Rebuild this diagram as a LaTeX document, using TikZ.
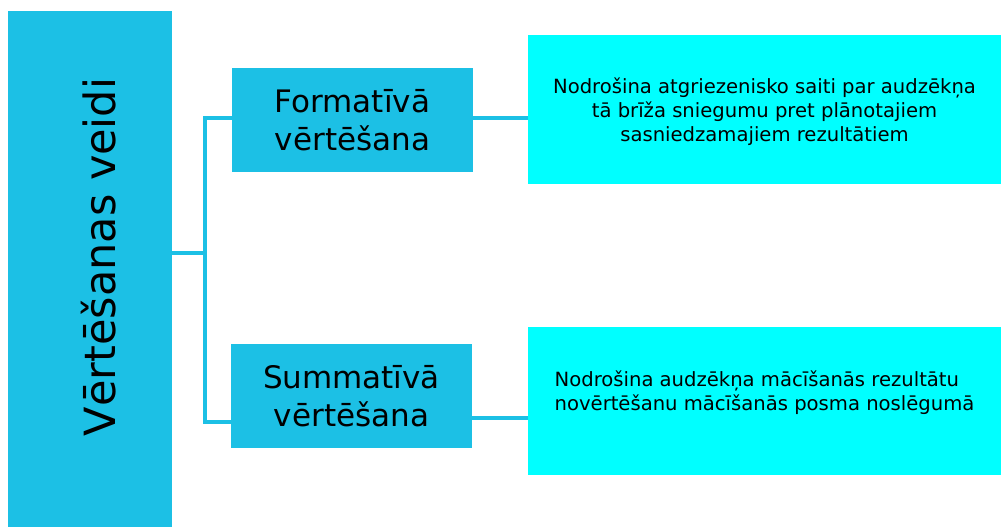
\documentclass[tikz,border=0pt]{standalone}
\usepackage{fontspec}
\setmainfont{DejaVu Sans}

\definecolor{boxblue}{RGB}{28,192,229}
\definecolor{boxcyan}{RGB}{0,255,255}

\tikzset{
  typebox/.style={shape=rectangle, fill=boxblue, inner sep=0pt, align=center,
    minimum width=241pt, minimum height=104pt, font=\fontsize{31}{38}\selectfont},
  descbox/.style={shape=rectangle, fill=boxcyan, inner sep=0pt,
    minimum width=473pt, minimum height=148pt, font=\fontsize{19.6}{24}\selectfont},
  link/.style={draw=boxblue, line width=3.2pt}
}

\begin{document}
\begin{tikzpicture}[x=1pt, y=-1pt]
    \useasboundingbox (0,0) rectangle (1001,527);

    %%   (lable)  (x, y)
    \coordinate (J)   at (205, 253);
    \coordinate (CF)  at (0,   118);
    \coordinate (CS)  at (0,   422);
    \coordinate (CSR) at (0,   418);

    \node[shape=rectangle, fill=boxblue, inner sep=0pt, rotate=90,
          minimum width=516pt, minimum height=164pt, text height=50pt, text depth=0pt,
          font=\fontsize{43}{50}\selectfont] (veidi) at (90, 269) {\hspace*{24pt}Vērtēšanas veidi};

    \node[typebox] (form) at (352.5, 120) {Formatīvā\\vērtēšana};
    \node[typebox] (summ) at (351.5, 396) {Summatīvā\\vērtēšana};

    \node[descbox, text height=15pt, text depth=48pt] (desc1) at (764.5, 109.5)
      {\begin{tabular}[t]{@{}c@{}}Nodrošina atgriezenisko saiti par audzēkņa\\tā brīža sniegumu pret plānotajiem\\sasniedzamajiem rezultātiem\end{tabular}};
    \node[descbox, text height=15pt, text depth=45pt] (desc2) at (764.5, 401)
      {\begin{tabular}[t]{@{}l@{}}Nodrošina audzēkņa mācīšanās rezultātu\\novērtēšanu mācīšanās posma noslēgumā\end{tabular}};

    \draw[link] (veidi.south |- J) -- (J) |- (form.west |- CF);
    \draw[link] (J) |- (summ.west |- CS);
    \draw[link] (form.east |- CF) -- (desc1.west |- CF);
    \draw[link] (summ.east |- CSR) -- (desc2.west |- CSR);

  \end{tikzpicture}
\end{document}
